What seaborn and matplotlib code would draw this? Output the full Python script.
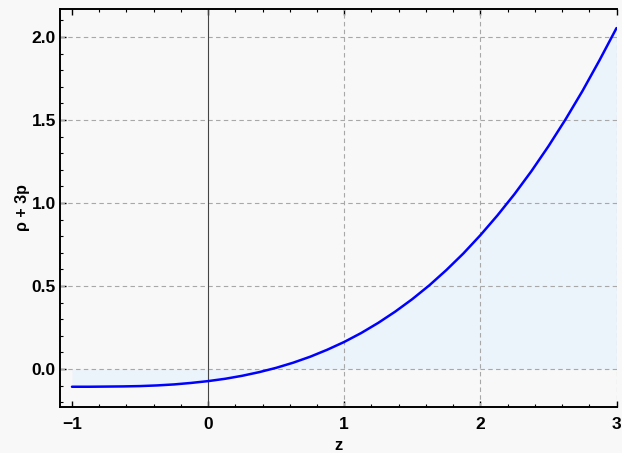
import matplotlib
matplotlib.use("Agg")
import matplotlib.pyplot as plt
import pandas as pd
import seaborn as sns
from matplotlib.ticker import MultipleLocator

# values (step 0.125 in z)
z_vals = [-1.0, -0.875, -0.75, -0.625, -0.5, -0.375, -0.25, -0.125, 0.0,
          0.125, 0.25, 0.375, 0.5, 0.625, 0.75, 0.875, 1.0,
          1.125, 1.25, 1.375, 1.5, 1.625, 1.75, 1.875, 2.0,
          2.125, 2.25, 2.375, 2.5, 2.625, 2.75, 2.875, 3.0]
rho3p_vals = [-0.107, -0.107, -0.106, -0.105, -0.103, -0.099, -0.093, -0.084, -0.073,
              -0.059, -0.041, -0.019, 0.007, 0.038, 0.074, 0.116, 0.163,
              0.217, 0.278, 0.346, 0.421, 0.504, 0.596, 0.696, 0.806,
              0.925, 1.053, 1.192, 1.342, 1.503, 1.675, 1.860, 2.054]
x_grid = [1, 2, 3]
y_grid = [0.0, 0.5, 1.0, 1.5, 2.0]
x_ticks = [-1, 0, 1, 2, 3]
x_labels = ["\u22121", "0", "1", "2", "3"]
y_ticks = [0.0, 0.5, 1.0, 1.5, 2.0]

df = pd.DataFrame({"z": z_vals, "rho3p": rho3p_vals})

sns.set_style("ticks")
plt.rcParams["font.family"] = ["Liberation Sans", "DejaVu Sans"]
plt.rcParams["font.weight"] = "bold"
plt.rcParams["text.color"] = "black"
plt.rcParams["axes.labelcolor"] = "black"
plt.rcParams["xtick.color"] = "black"
plt.rcParams["ytick.color"] = "black"

bg = "#f8f8f8"
fig = plt.figure(figsize=(6.22, 4.53), dpi=100, facecolor=bg)
ax = fig.add_axes([60 / 622, 1 - 407 / 453, 556.5 / 622, 398 / 453])
ax.set_facecolor(bg)

ax.fill_between(df["z"], df["rho3p"], 0, color="#ebf3fb", linewidth=0, zorder=1)
for gx in x_grid:
    ax.axvline(gx, color="#a8a8a8", linestyle=(0, (4, 3)), linewidth=0.8, zorder=2)
for gy in y_grid:
    ax.axhline(gy, color="#a8a8a8", linestyle=(0, (4, 3)), linewidth=0.8, zorder=2)
ax.axvline(0, color="#444444", linewidth=0.8, zorder=2)

sns.lineplot(data=df, x="z", y="rho3p", color="#0000ff", linewidth=1.8, ax=ax, zorder=3)

ax.set_xlim(-1.088, 3.0)
ax.set_ylim(-0.229, 2.169)
ax.set_xticks(x_ticks)
ax.set_xticklabels(x_labels)
ax.set_yticks(y_ticks)
ax.set_yticklabels([f"{v:.1f}" for v in y_ticks])
ax.xaxis.set_minor_locator(MultipleLocator(0.2))
ax.yaxis.set_minor_locator(MultipleLocator(0.1))
ax.tick_params(which="major", direction="in", length=4.5, width=1.0, top=True, right=False,
               labelsize=12.5, color="black", labelcolor="black")
ax.tick_params(which="minor", direction="in", length=2.5, width=0.8, top=True, right=False)
ax.tick_params(axis="x", which="major", pad=7)
ax.tick_params(axis="y", which="major", pad=3)
for lbl in ax.get_xticklabels() + ax.get_yticklabels():
    lbl.set_fontweight("bold")

for side in ["left", "bottom", "top"]:
    ax.spines[side].set_linewidth(1.4)
    ax.spines[side].set_color("black")
ax.spines["right"].set_visible(False)

ax.set_xlabel("z", fontsize=12, fontweight="bold", labelpad=4.5, color="black")
ax.set_ylabel("\u03c1 + 3p", fontsize=11.5, fontweight="bold", labelpad=1, color="black")

fig.savefig("out.png", dpi=100, facecolor=bg)
